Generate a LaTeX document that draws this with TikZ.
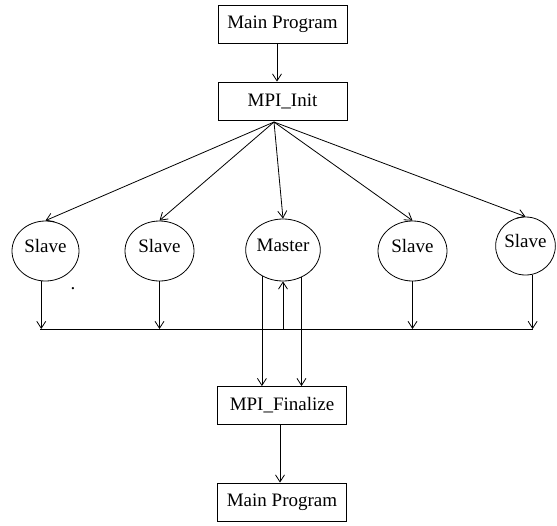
\documentclass[tikz,border=0pt]{standalone}
\usepackage{fontspec}
\setmainfont{Liberation Serif}
\usetikzlibrary{arrows.meta,shapes.geometric}

\begin{document}
\begin{tikzpicture}[x=1pt,y=-1pt,line width=0.8pt,>={Straight Barb[length=7pt,width=9pt]}]
\tikzstyle{every node}+=[inner sep=0pt,font=\fontsize{19}{22}\selectfont]
\tikzstyle{prog}=[draw,rectangle,minimum width=129pt,minimum height=38pt]
\tikzstyle{proc}=[draw,ellipse,minimum width=67pt,minimum height=60pt,text depth=10pt]
\useasboundingbox (0,0) rectangle (557,525);
% boxes
\node [prog] (main1) at (282.5,24.5) {Main Program};
\node [prog] (init) at (282.5,101) {MPI\_Init};
\node [prog] (fin) at (282,405.5) {MPI\_Finalize};
\node [prog] (main2) at (282,502) {Main Program};
% processes
\node [proc] (s1) at (45.5,251) {Slave};
\node [proc,minimum width=69pt] (s2) at (159.5,251) {Slave};
\node [proc,minimum width=68pt,minimum height=62pt] (master) at (283,250) {Master};
\node [proc,minimum width=69pt] (s4) at (412.5,251) {Slave};
\node [proc,minimum width=59pt,minimum height=58pt] (s5) at (525.5,246) {Slave};
\node (dot) at (73,289) {.};
\coordinate (hub) at (274,122);
\coordinate (busL) at (40,329);
\coordinate (busR) at (533,329);
% arrows
\draw [->] ([xshift=-5.5pt]main1.south) -- ([xshift=-5.5pt]init.north);
\foreach \n in {s1,s2,master,s4,s5}
  \draw [->] (hub) -- (\n.north);
\draw (busL) -- (busR);
\draw [->] (s1.-98) -- (s1.-98 |- busL);
\draw [->] (s2.south) -- (s2.south |- busL);
\draw [->] (s4.south) -- (s4.south |- busL);
\draw [->] (s5.-76) -- (s5.-76 |- busL);
\draw [->] (master.-129) -- (master.-129 |- fin.north);
\draw [->] (master.-56) -- (master.-56 |- fin.north);
\draw [->] (master.south |- busL) -- (master.south);
\draw [->] ([xshift=-2pt]fin.south) -- ([xshift=-2pt]main2.north);
\end{tikzpicture}
\end{document}
